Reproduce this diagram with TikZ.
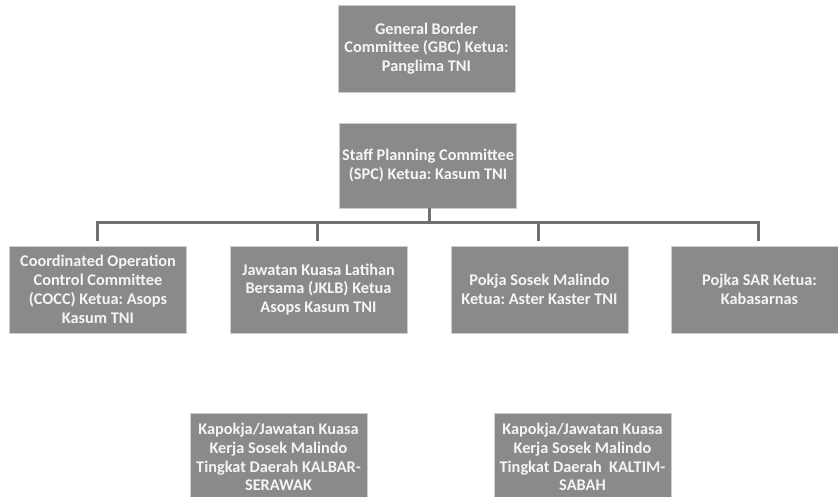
\documentclass[tikz,border=0pt]{standalone}
\usepackage{fontspec}
\setmainfont{Carlito}
\frenchspacing
\definecolor{boxfill}{RGB}{138,138,138}
\definecolor{boxedge}{RGB}{205,205,205}
\definecolor{linec}{RGB}{112,112,112}
\definecolor{txt}{RGB}{245,245,245}
\tikzset{
  orgbox/.style={draw=boxedge, line width=0.8pt, fill=boxfill, text=txt,
    minimum width=177pt, minimum height=87pt, inner sep=1pt,
    align=center, font=\bfseries\frenchspacing\fontsize{16.3}{18.8}\selectfont},
  conn/.style={draw=linec, line width=3pt}
}
\begin{document}
\begin{tikzpicture}[x=1pt,y=1pt]
\useasboundingbox (0,0) rectangle (838,497);
\fill[white] (0,0) rectangle (838,497);
\clip (0,0) rectangle (838,497);
\node[orgbox] (gbc) at (426.5,448.5) {General Border\\Committee (GBC) Ketua:\\Panglima TNI};
\node[orgbox, minimum height=85pt] (spc) at (428,331.5) {Staff Planning Committee\\(SPC) Ketua: Kasum TNI};
\node[orgbox] (cocc) at (98,207.5) {Coordinated Operation\\Control Committee\\(COCC) Ketua: Asops\\Kasum TNI};
\node[orgbox] (jklb) at (318.5,207.5) {Jawatan Kuasa Latihan\\Bersama (JKLB) Ketua\\Asops Kasum TNI};
\node[orgbox] (pokja) at (539.5,207.5) {Pokja Sosek Malindo\\Ketua: Aster Kaster TNI};
\node[orgbox] (sar) at (759.5,207.5) {Pojka SAR Ketua:\\Kabasarnas};
\node[orgbox, minimum height=88pt] (kalbar) at (278.5,40) {Kapokja/Jawatan Kuasa\\Kerja Sosek Malindo\\Tingkat Daerah KALBAR-\\SERAWAK};
\node[orgbox, minimum height=88pt] (kaltim) at (582.5,40) {Kapokja/Jawatan Kuasa\\Kerja Sosek Malindo\\Tingkat Daerah\ \ KALTIM-\\SABAH};
\coordinate (bus) at (429,274);
\coordinate (busL) at (97,274);
\coordinate (busR) at (760,274);
\draw[conn] ([xshift=1pt]spc.south) -- (bus);
\draw[conn] (busL) -- (busR);
\draw[conn] ([yshift=1.5pt]busL) -- ([yshift=5pt,xshift=-1pt]cocc.north);
\draw[conn] (317,275.5) -- ([yshift=5pt,xshift=-1.5pt]jklb.north);
\draw[conn] (538,275.5) -- ([yshift=5pt,xshift=-1.5pt]pokja.north);
\draw[conn] (758,275.5) -- ([yshift=5pt,xshift=-1.5pt]sar.north);
\end{tikzpicture}
\end{document}
